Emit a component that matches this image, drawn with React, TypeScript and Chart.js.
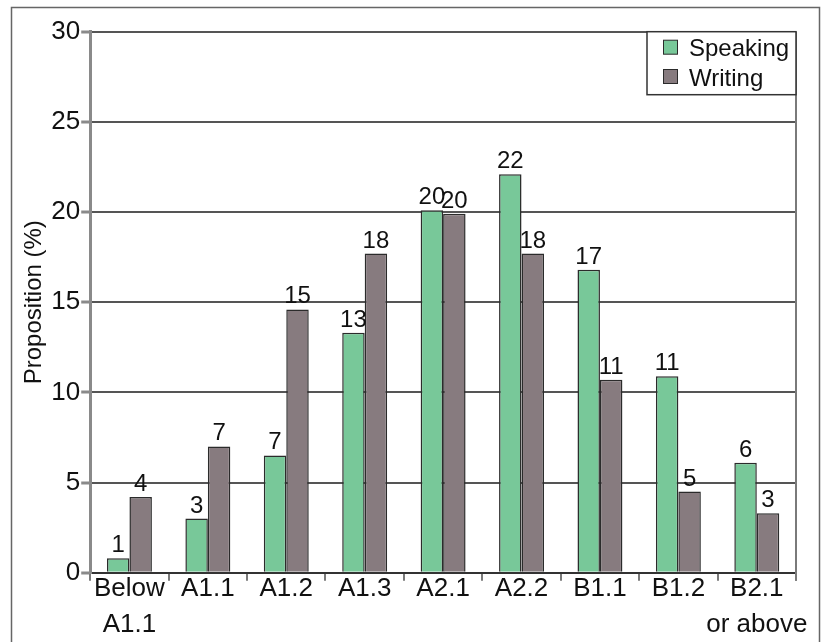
import { useEffect, useRef } from 'react';
import { Chart, registerables } from 'chart.js';

Chart.register(...registerables);

const categories: (string | string[])[] = [
  ['Below', 'A1.1'], 'A1.1', 'A1.2', 'A1.3', 'A2.1', 'A2.2', 'B1.1', 'B1.2', ['B2.1', 'or above'],
];
const seriesNames = ['Speaking', 'Writing'];
const speakingValues = [0.8, 3.0, 6.5, 13.3, 20.1, 22.1, 16.8, 10.9, 6.1];
const writingValues = [4.2, 7.0, 14.6, 17.7, 19.9, 17.7, 10.7, 4.5, 3.3];
const yAxisTitle = 'Proposition (%)';
const yMin = 0;
const yMax = 30;
const yStep = 5;

const FONT = "'Liberation Sans', Arial, sans-serif";
const SPEAK_COLOR = '#78c899';
const WRITE_COLOR = '#877b7f';
const BORDER = '#2b2b2b';

const framePlugin = {
  id: 'framePlugin',
  afterDraw(chart: any) {
    const { ctx, chartArea } = chart;
    ctx.save();
    ctx.strokeStyle = '#666';
    ctx.lineWidth = 1.5;
    ctx.strokeRect(11.5, 7.5, 808, 640);
    ctx.strokeStyle = '#7a7a7a';
    ctx.lineWidth = 2;
    ctx.beginPath();
    ctx.moveTo(chartArea.right, chartArea.top);
    ctx.lineTo(chartArea.right, chartArea.bottom + 8);
    ctx.stroke();
    ctx.restore();
  },
};

const valueLabelPlugin = {
  id: 'valueLabelPlugin',
  afterDatasetsDraw(chart: any) {
    const { ctx } = chart;
    ctx.save();
    ctx.font = `24px ${FONT}`;
    ctx.fillStyle = '#111';
    ctx.textAlign = 'center';
    ctx.textBaseline = 'alphabetic';
    chart.data.datasets.forEach((ds: any, di: number) => {
      const meta = chart.getDatasetMeta(di);
      meta.data.forEach((el: any, i: number) => {
        const v = ds.data[i];
        ctx.fillText(String(Math.round(v)), el.x, el.y - 6);
      });
    });
    ctx.restore();
  },
};

const legendBoxPlugin = {
  id: 'legendBoxPlugin',
  afterDraw(chart: any) {
    const { ctx, chartArea } = chart;
    const w = 149;
    const h = 63;
    const x = chartArea.right - w;
    const y = chartArea.top;
    ctx.save();
    ctx.fillStyle = '#fff';
    ctx.fillRect(x, y, w, h);
    ctx.strokeStyle = '#333';
    ctx.lineWidth = 1.5;
    ctx.strokeRect(x, y, w, h);
    ctx.font = `24px ${FONT}`;
    ctx.textAlign = 'left';
    ctx.textBaseline = 'alphabetic';
    chart.data.datasets.forEach((ds: any, i: number) => {
      const sy = y + 8.5 + i * 29.3;
      ctx.fillStyle = ds.backgroundColor;
      ctx.fillRect(x + 16.5, sy, 14, 14);
      ctx.strokeStyle = BORDER;
      ctx.lineWidth = 1;
      ctx.strokeRect(x + 16.5, sy, 14, 14);
      ctx.fillStyle = '#111';
      ctx.fillText(ds.label, x + 42, sy + 16);
    });
    ctx.restore();
  },
};

export default function App() {
  const ref = useRef<HTMLCanvasElement | null>(null);
  useEffect(() => {
    if (!ref.current) return;
    const chart = new Chart(ref.current, {
      type: 'bar',
      data: {
        labels: categories,
        datasets: [
          {
            label: seriesNames[0],
            data: speakingValues,
            backgroundColor: SPEAK_COLOR,
            borderColor: BORDER,
            borderWidth: 1.5,
            categoryPercentage: 0.573,
            barPercentage: 1,
          },
          {
            label: seriesNames[1],
            data: writingValues,
            backgroundColor: WRITE_COLOR,
            borderColor: BORDER,
            borderWidth: 1.5,
            categoryPercentage: 0.573,
            barPercentage: 1,
          },
        ],
      },
      options: {
        responsive: false,
        maintainAspectRatio: false,
        animation: false,
        devicePixelRatio: 1,
        layout: { padding: { left: 17, top: 31.7, right: 32, bottom: 9.1 } },
        plugins: {
          legend: { display: false },
          tooltip: { enabled: false },
          title: { display: false },
        },
        scales: {
          x: {
            offset: true,
            grid: {
              display: true,
              drawOnChartArea: false,
              drawTicks: true,
              tickLength: 8,
              color: '#7a7a7a',
              lineWidth: 2,
              offset: true,
            },
            border: { display: true, color: '#333', width: 2 },
            ticks: {
              color: '#111',
              font: { family: FONT, size: 26, lineHeight: 1.35 },
              padding: -9,
              maxRotation: 0,
              minRotation: 0,
              autoSkip: false,
            },
          },
          y: {
            min: yMin,
            max: yMax,
            ticks: {
              stepSize: yStep,
              color: '#111',
              font: { family: FONT, size: 26 },
              padding: 1,
            },
            grid: {
              color: '#555',
              lineWidth: 2,
              drawTicks: true,
              tickLength: 9,
              tickColor: '#8a8a8a',
              tickWidth: 3,
            },
            border: { display: true, color: '#8a8a8a', width: 3 },
            title: {
              display: true,
              text: yAxisTitle,
              color: '#111',
              font: { family: FONT, size: 24, lineHeight: 1.2 },
              padding: { top: 3, bottom: 1.5 },
            },
          },
        },
      },
      plugins: [framePlugin, valueLabelPlugin, legendBoxPlugin],
    });
    return () => chart.destroy();
  }, []);

  return (
    <div style={{ position: 'fixed', left: 0, top: 0, width: 828, height: 642, background: '#fff' }}>
      <canvas ref={ref} width={828} height={642} style={{ width: 828, height: 642, display: 'block' }} />
    </div>
  );
}
